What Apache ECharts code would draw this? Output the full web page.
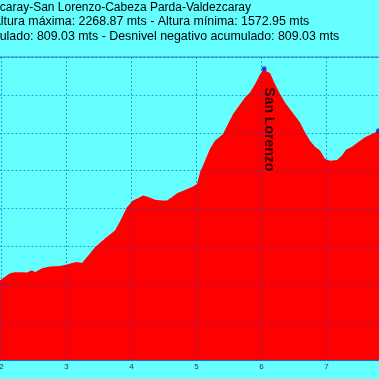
<!DOCTYPE html>
<html><head><meta charset="utf-8">
<script src="https://cdn.jsdelivr.net/npm/echarts/dist/echarts.min.js"></script>
<style>html,body{margin:0;padding:0;background:#66ffff;overflow:hidden;width:379px;height:379px}
#c{position:absolute;left:-140px;top:0;width:640px;height:379px}</style>
</head><body><div id="c"></div>
<script>
// Title lines (partly cut off on the left in the reference)
const titleLines = [
  'Valdezcaray-San Lorenzo-Cabeza Parda-Valdezcaray',
  'Altura máxima: 2268.87 mts - Altura mínima: 1572.95 mts',
  'Desnivel positivo acumulado: 809.03 mts - Desnivel negativo acumulado: 809.03 mts'
];
// Distance (km) and altitude (m) of the profile
const distances = [1.9, 1.977, 2.023, 2.131, 2.208, 2.315, 2.392, 2.469, 2.515, 2.623, 2.746, 2.9, 3.008, 3.1, 3.162, 3.238,
  3.362, 3.438, 3.592, 3.746, 3.823, 3.931, 4.023, 4.1, 4.177, 4.238, 4.362, 4.469, 4.546, 4.623, 4.7, 4.823, 4.946,
  5.008, 5.054, 5.131, 5.208, 5.285, 5.408, 5.485, 5.562, 5.638, 5.746, 5.823, 5.9, 5.977, 6.04, 6.085, 6.131,
  6.208, 6.285, 6.362, 6.438, 6.515, 6.592, 6.669, 6.746, 6.823, 6.9, 6.977, 7.054, 7.162, 7.238, 7.3, 7.392,
  7.485, 7.592, 7.7, 7.8, 7.9];
const altitudes = [1705, 1710, 1716, 1729, 1732, 1732, 1731, 1737, 1732, 1742, 1747, 1748, 1752, 1757, 1759, 1756,
  1781, 1798, 1821, 1842, 1866, 1903, 1921, 1927, 1934, 1932, 1923, 1921, 1921, 1930, 1940, 1949, 1958,
  1965, 1995, 2026, 2058, 2079, 2097, 2123, 2149, 2167, 2193, 2206, 2228, 2254, 2268.87, 2261, 2258,
  2228, 2202, 2180, 2162, 2145, 2127, 2101, 2079, 2063, 2053, 2031, 2026, 2028, 2040, 2055, 2063,
  2075, 2088, 2097, 2105, 2112];
// Waypoints
const waypointNames = ['San Lorenzo', ''];
const waypointDist = [6.04, 7.8];
const waypointAlt = [2268.87, 2105];
// Axis ranges
const xMin = 0, xMax = 9, xStep = 1;
const yMin = 1500, yMax = 2300, yStep = 100;

const OX = 140; // container shift (px) to the left of the visible window
const font = '"Liberation Sans", Arial, sans-serif';
const chart = echarts.init(document.getElementById('c'));
const profile = distances.map((d, i) => [d, altitudes[i]]);
const wps = waypointDist.map((d, i) => ({name: waypointNames[i], value: [d, waypointAlt[i]],
  label: {show: waypointNames[i] !== ''}}));
const gridColor = 'rgba(0,70,200,0.55)';

chart.setOption({
  backgroundColor: '#66ffff',
  animation: false,
  graphic: [
    {type: 'text', left: OX - 36, top: 2, style: {text: titleLines[0], font: '12px ' + font, fill: '#000'}},
    {type: 'text', left: OX - 7.5, top: 16, style: {text: titleLines[1], font: '12.4px ' + font, fill: '#000'}},
    {type: 'text', left: OX - 127, top: 30.5, style: {text: titleLines[2], font: '12.4px ' + font, fill: '#000'}}
  ],
  grid: {left: OX - 128.5, top: 57, width: 585, height: 303, show: true, borderColor: '#2f80d8', borderWidth: 1},
  xAxis: {
    type: 'value', min: xMin, max: xMax, interval: xStep, z: 5,
    axisLine: {show: true, lineStyle: {color: gridColor}},
    axisTick: {show: false},
    axisLabel: {fontSize: 8, color: '#334', margin: 3, fontFamily: font},
    splitLine: {show: true, lineStyle: {color: gridColor, type: [2, 2], width: 1}}
  },
  yAxis: {
    type: 'value', min: yMin, max: yMax, interval: yStep, z: 5,
    axisLine: {show: false}, axisTick: {show: false},
    axisLabel: {show: false},
    splitLine: {show: true, lineStyle: {color: gridColor, type: [2, 2], width: 1}}
  },
  series: [
    {type: 'line', data: profile, z: 2, showSymbol: false, symbol: 'none',
     lineStyle: {width: 0, color: '#ff0000'}, areaStyle: {color: '#ff0000', opacity: 1}},
    {type: 'scatter', data: wps, z: 6, symbolSize: 5, itemStyle: {color: '#1a1ad0'},
     label: {formatter: '{b}', position: 'bottom', distance: 15, rotate: -90, align: 'left',
       verticalAlign: 'middle', fontSize: 14, fontWeight: 'bold', color: '#000', fontFamily: font, offset: [1, -4.5]}}
  ]
});
</script></body></html>
